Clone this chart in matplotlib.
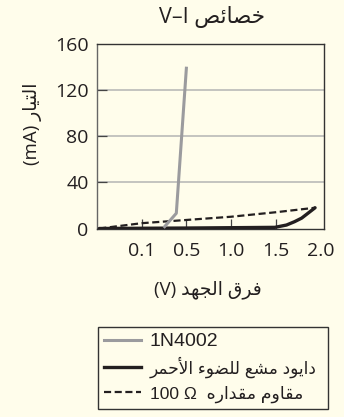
import numpy as np
import matplotlib
matplotlib.use("Agg")
import matplotlib.pyplot as plt
from matplotlib.lines import Line2D

# ---------------- data ----------------
title_ar = "خصائص"
title_lat = "V–I"
xlabel_ar = "فرق الجهد"
xlabel_lat = "(V)"
ylabel_ar = "التيار"
ylabel_lat = "(mA)"
legend_diode = "1N4002"
legend_led_ar = "دايود مشع للضوء الأحمر"
legend_res_ar = "مقاوم مقداره"
legend_res_lat = "100 Ω"

x_ticks = [0.1, 0.5, 1.0, 1.5, 2.0]
x_ticklabels = ["0.1", "0.5", "1.0", "1.5", "2.0"]
y_ticks = [0, 40, 80, 120, 160]

diode_v = [0.305, 0.41, 0.5]
diode_i = [1.6, 13.2, 139]

led_v = [0.005, 0.1, 0.5, 1.0, 1.49, 1.62, 1.71, 1.79, 1.86, 1.94]
led_i = [0.0, 0.2, 0.4, 0.7, 1.0, 3.0, 5.9, 9.0, 13.2, 18.0]

res_v = [0.005, 0.1, 0.5, 1.0, 1.5, 1.94]
res_i = [0.0, 4.6, 7.4, 10.2, 14.1, 18.0]

# ---------------- minimal Arabic shaping (for display) ----------------
FORMS = {
    'ء': (0xFE80, None, None, None),
    'أ': (0xFE83, 0xFE84, None, None),
    'ئ': (0xFE89, 0xFE8A, 0xFE8B, 0xFE8C),
    'ا': (0xFE8D, 0xFE8E, None, None),
    'ت': (0xFE95, 0xFE96, 0xFE97, 0xFE98),
    'ج': (0xFE9D, 0xFE9E, 0xFE9F, 0xFEA0),
    'ح': (0xFEA1, 0xFEA2, 0xFEA3, 0xFEA4),
    'خ': (0xFEA5, 0xFEA6, 0xFEA7, 0xFEA8),
    'د': (0xFEA9, 0xFEAA, None, None),
    'ر': (0xFEAD, 0xFEAE, None, None),
    'ش': (0xFEB5, 0xFEB6, 0xFEB7, 0xFEB8),
    'ص': (0xFEB9, 0xFEBA, 0xFEBB, 0xFEBC),
    'ض': (0xFEBD, 0xFEBE, 0xFEBF, 0xFEC0),
    'ع': (0xFEC9, 0xFECA, 0xFECB, 0xFECC),
    'ف': (0xFED1, 0xFED2, 0xFED3, 0xFED4),
    'ق': (0xFED5, 0xFED6, 0xFED7, 0xFED8),
    'ل': (0xFEDD, 0xFEDE, 0xFEDF, 0xFEE0),
    'م': (0xFEE1, 0xFEE2, 0xFEE3, 0xFEE4),
    'ه': (0xFEE9, 0xFEEA, 0xFEEB, 0xFEEC),
    'و': (0xFEED, 0xFEEE, None, None),
    'ي': (0xFEF1, 0xFEF2, 0xFEF3, 0xFEF4),
    'LA': (0xFEFB, 0xFEFC, None, None),
    'LAH': (0xFEF7, 0xFEF8, None, None),
}


def ar(text):
    units = []
    i = 0
    while i < len(text):
        c = text[i]
        if c == 'ل' and i + 1 < len(text) and text[i + 1] in 'اأ':
            units.append('LA' if text[i + 1] == 'ا' else 'LAH')
            i += 2
            continue
        units.append(c)
        i += 1
    out = []
    for k, u in enumerate(units):
        if u not in FORMS:
            out.append(u)
            continue
        iso, fin, ini, med = FORMS[u]
        prev = units[k - 1] if k > 0 else None
        nxt = units[k + 1] if k + 1 < len(units) else None
        join_prev = prev in FORMS and FORMS[prev][2] is not None and fin is not None
        join_next = ini is not None and nxt in FORMS and FORMS[nxt][1] is not None
        if join_prev and join_next:
            cp = med
        elif join_prev:
            cp = fin
        elif join_next:
            cp = ini
        else:
            cp = iso
        out.append(chr(cp))
    return ''.join(out)[::-1]


# ---------------- figure ----------------
BG = '#FFFDEB'
DARK = '#231F20'
GRAYLINE = '#9B9B9E'

plt.rcParams['font.family'] = ['Open Sans', 'DejaVu Sans']

fig = plt.figure(figsize=(3.44, 4.17), dpi=100, facecolor=BG)
ax = fig.add_axes([97 / 344, 1 - 228.5 / 417, 227 / 344, 184.5 / 417])
ax.set_facecolor(BG)


def fwd(v):
    v = np.asarray(v, dtype=float)
    return np.where(v < 0.1, v * 10.0,
                    np.where(v < 0.5, 1.0 + (v - 0.1) * 2.5, 2.0 + (v - 0.5) * 2.0))


def inv(u):
    u = np.asarray(u, dtype=float)
    return np.where(u < 1.0, u / 10.0,
                    np.where(u < 2.0, 0.1 + (u - 1.0) / 2.5, 0.5 + (u - 2.0) / 2.0))


ax.set_xscale('function', functions=(fwd, inv))
ax.set_xlim(0, 2.04)
ax.set_ylim(0, 160)

for yv in y_ticks[1:-1]:
    ax.axhline(yv, color='#B4B4B4', lw=1.1, zorder=1)

ax.plot(res_v, res_i, color=DARK, lw=1.6, ls=(0, (3.2, 1.6)), zorder=3,
        solid_capstyle='butt')
ax.plot(led_v, led_i, color=DARK, lw=2.4, zorder=4, solid_capstyle='round')
ax.plot(diode_v, diode_i, color=GRAYLINE, lw=2.2, zorder=5)

ax.set_xticks(x_ticks)
ax.set_xticklabels(x_ticklabels)
ax.set_yticks(y_ticks)
ax.tick_params(axis='both', direction='in', length=7.3, width=0.9, color='#444444',
               labelsize=14, labelcolor=DARK)
ax.tick_params(axis='x', pad=10)
ax.tick_params(axis='y', pad=6)
ax.xaxis.get_major_ticks()[-1].tick1line.set_visible(False)
ax.yaxis.get_major_ticks()[0].tick1line.set_visible(False)
ax.yaxis.get_major_ticks()[-1].tick1line.set_visible(False)

for s in ['top', 'right', 'bottom']:
    ax.spines[s].set_color('#333333')
    ax.spines[s].set_linewidth(1.0)
ax.spines['left'].set_color('#666666')
ax.spines['left'].set_linewidth(1.0)

fig.text(212 / 344, 1 - 17 / 417, title_lat + ' ' + ar(title_ar), ha='center', va='center',
         fontsize=15.5, color=DARK)
fig.text(208 / 344, 1 - 290 / 417, xlabel_lat + ' ' + ar(xlabel_ar), ha='center', va='center',
         fontsize=13.5, color=DARK)
fig.text(32 / 344, 1 - 124 / 417, ylabel_lat + ' ' + ar(ylabel_ar), ha='center', va='center',
         rotation=90, fontsize=13.5, color=DARK)

handles = [
    Line2D([], [], color=GRAYLINE, lw=2.2),
    Line2D([], [], color=DARK, lw=2.4),
    Line2D([], [], color=DARK, lw=1.6, ls=(0, (3.2, 1.6))),
]
labels = [legend_diode, ar(legend_led_ar), legend_res_lat + '  ' + ar(legend_res_ar)]
leg = fig.legend(handles, labels, loc='upper left',
                 bbox_to_anchor=(98 / 344, 1 - 407 / 417, 230 / 344, 80 / 417),
                 mode='expand', frameon=True, fancybox=False, framealpha=1,
                 facecolor=BG, edgecolor='#333333', handlelength=1.9, handletextpad=0.45,
                 labelspacing=0.33, borderpad=0.3, borderaxespad=0,
                 prop={'family': ['Liberation Sans', 'DejaVu Sans'], 'size': 14})
leg.get_frame().set_linewidth(1.0)
texts = leg.get_texts()
texts[1].set_fontsize(12.2)
texts[2].set_fontsize(12.5)
for t in texts:
    t.set_color(DARK)

fig.savefig('out.png', dpi=100, facecolor=BG)
